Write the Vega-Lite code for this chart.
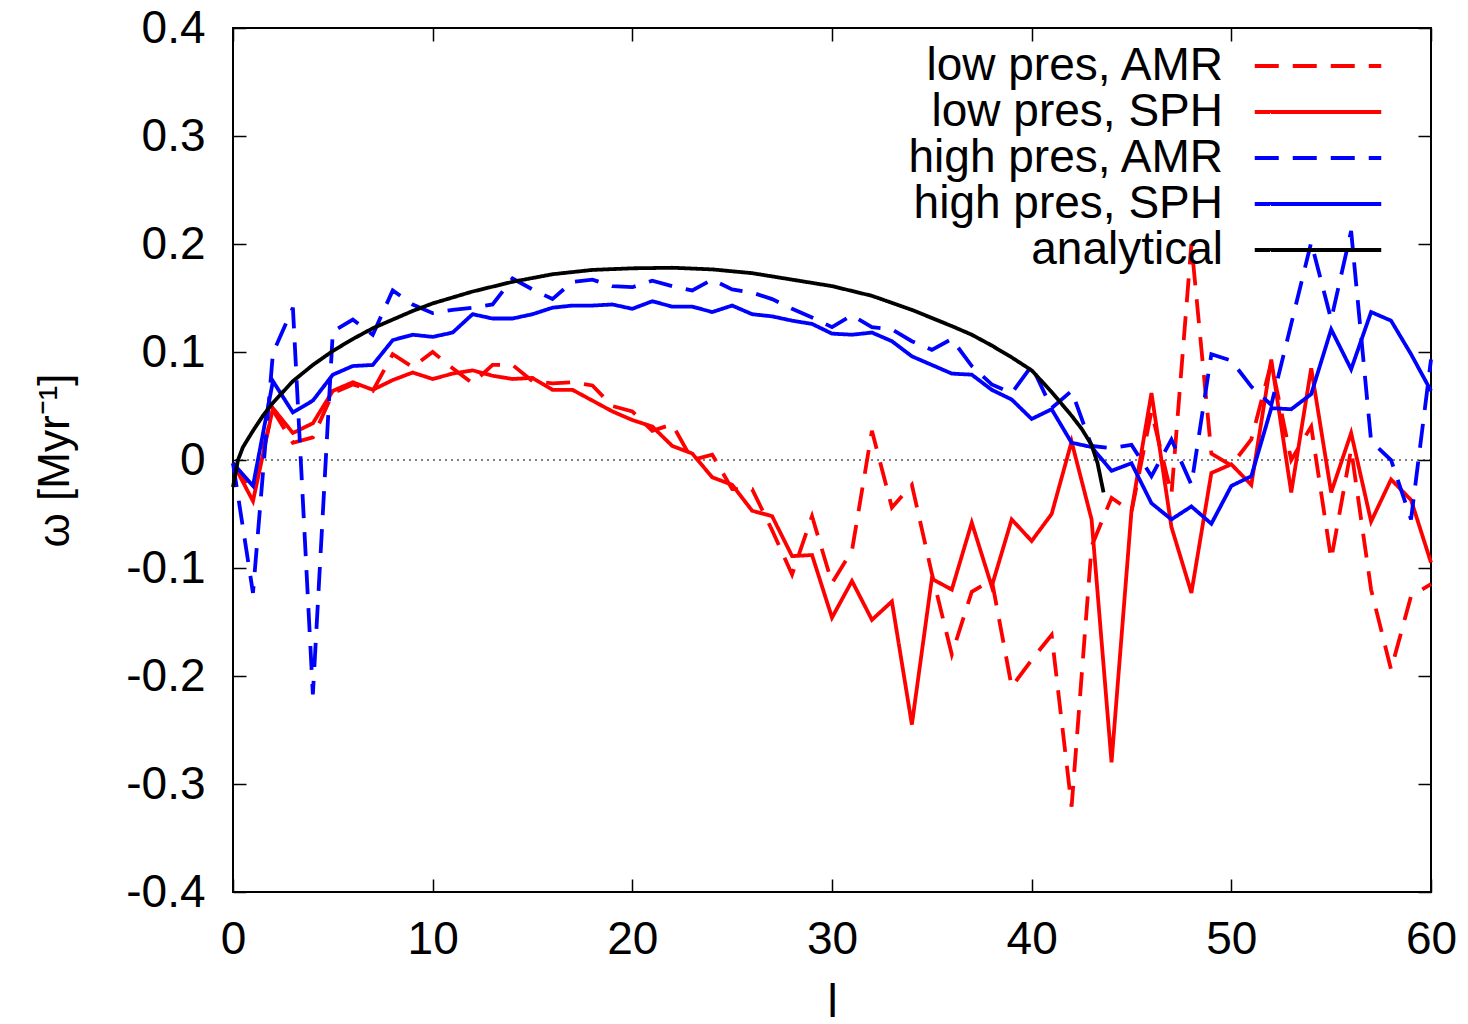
{
  "$schema": "https://vega.github.io/schema/vega-lite/v6.json",
  "width": 1198,
  "height": 864,
  "autosize": {"type": "none"},
  "padding": {"left": 233, "top": 28, "right": 37, "bottom": 132},
  "background": "white",
  "config": {
    "font": "Liberation Sans",
    "view": {"stroke": "black", "strokeWidth": 2},
    "axis": {"grid": false, "domain": false, "tickColor": "black", "tickWidth": 1.5, "labelColor": "black", "titleColor": "black", "labelFont": "Liberation Sans", "titleFont": "Liberation Sans", "labelFontSize": 46, "titleFontSize": 46, "titleFontWeight": "normal", "labelFlush": false, "labelOverlap": false, "labelBound": false}
  },
  "datasets": {
    "curves": [
      {"l":0,"w":-0.003,"series":"low pres, AMR"},{"l":1,"w":-0.028,"series":"low pres, AMR"},{"l":2,"w":0.046,"series":"low pres, AMR"},{"l":3,"w":0.016,"series":"low pres, AMR"},{"l":4,"w":0.021,"series":"low pres, AMR"},{"l":5,"w":0.062,"series":"low pres, AMR"},{"l":6,"w":0.070,"series":"low pres, AMR"},{"l":7,"w":0.064,"series":"low pres, AMR"},{"l":8,"w":0.098,"series":"low pres, AMR"},{"l":9,"w":0.086,"series":"low pres, AMR"},{"l":10,"w":0.100,"series":"low pres, AMR"},{"l":11,"w":0.085,"series":"low pres, AMR"},{"l":12,"w":0.071,"series":"low pres, AMR"},{"l":13,"w":0.088,"series":"low pres, AMR"},{"l":14,"w":0.088,"series":"low pres, AMR"},{"l":15,"w":0.073,"series":"low pres, AMR"},{"l":16,"w":0.071,"series":"low pres, AMR"},{"l":17,"w":0.072,"series":"low pres, AMR"},{"l":18,"w":0.069,"series":"low pres, AMR"},{"l":19,"w":0.050,"series":"low pres, AMR"},{"l":20,"w":0.045,"series":"low pres, AMR"},{"l":21,"w":0.027,"series":"low pres, AMR"},{"l":22,"w":0.033,"series":"low pres, AMR"},{"l":23,"w":0.000,"series":"low pres, AMR"},{"l":24,"w":0.005,"series":"low pres, AMR"},{"l":25,"w":-0.027,"series":"low pres, AMR"},{"l":26,"w":-0.027,"series":"low pres, AMR"},{"l":27,"w":-0.065,"series":"low pres, AMR"},{"l":28,"w":-0.106,"series":"low pres, AMR"},{"l":29,"w":-0.052,"series":"low pres, AMR"},{"l":30,"w":-0.114,"series":"low pres, AMR"},{"l":31,"w":-0.084,"series":"low pres, AMR"},{"l":32,"w":0.027,"series":"low pres, AMR"},{"l":33,"w":-0.044,"series":"low pres, AMR"},{"l":34,"w":-0.023,"series":"low pres, AMR"},{"l":35,"w":-0.105,"series":"low pres, AMR"},{"l":36,"w":-0.180,"series":"low pres, AMR"},{"l":37,"w":-0.122,"series":"low pres, AMR"},{"l":38,"w":-0.111,"series":"low pres, AMR"},{"l":39,"w":-0.210,"series":"low pres, AMR"},{"l":40,"w":-0.185,"series":"low pres, AMR"},{"l":41,"w":-0.162,"series":"low pres, AMR"},{"l":42,"w":-0.321,"series":"low pres, AMR"},{"l":43,"w":-0.080,"series":"low pres, AMR"},{"l":44,"w":-0.035,"series":"low pres, AMR"},{"l":45,"w":-0.048,"series":"low pres, AMR"},{"l":46,"w":0.045,"series":"low pres, AMR"},{"l":47,"w":-0.032,"series":"low pres, AMR"},{"l":48,"w":0.200,"series":"low pres, AMR"},{"l":49,"w":0.006,"series":"low pres, AMR"},{"l":50,"w":-0.005,"series":"low pres, AMR"},{"l":51,"w":0.019,"series":"low pres, AMR"},{"l":52,"w":0.090,"series":"low pres, AMR"},{"l":53,"w":0.000,"series":"low pres, AMR"},{"l":54,"w":0.031,"series":"low pres, AMR"},{"l":55,"w":-0.092,"series":"low pres, AMR"},{"l":56,"w":0.010,"series":"low pres, AMR"},{"l":57,"w":-0.120,"series":"low pres, AMR"},{"l":58,"w":-0.194,"series":"low pres, AMR"},{"l":59,"w":-0.126,"series":"low pres, AMR"},{"l":60,"w":-0.115,"series":"low pres, AMR"},
      {"l":0,"w":-0.003,"series":"low pres, SPH"},{"l":1,"w":-0.038,"series":"low pres, SPH"},{"l":2,"w":0.048,"series":"low pres, SPH"},{"l":3,"w":0.025,"series":"low pres, SPH"},{"l":4,"w":0.034,"series":"low pres, SPH"},{"l":5,"w":0.064,"series":"low pres, SPH"},{"l":6,"w":0.072,"series":"low pres, SPH"},{"l":7,"w":0.065,"series":"low pres, SPH"},{"l":8,"w":0.074,"series":"low pres, SPH"},{"l":9,"w":0.081,"series":"low pres, SPH"},{"l":10,"w":0.075,"series":"low pres, SPH"},{"l":11,"w":0.080,"series":"low pres, SPH"},{"l":12,"w":0.083,"series":"low pres, SPH"},{"l":13,"w":0.078,"series":"low pres, SPH"},{"l":14,"w":0.075,"series":"low pres, SPH"},{"l":15,"w":0.076,"series":"low pres, SPH"},{"l":16,"w":0.065,"series":"low pres, SPH"},{"l":17,"w":0.065,"series":"low pres, SPH"},{"l":18,"w":0.055,"series":"low pres, SPH"},{"l":19,"w":0.045,"series":"low pres, SPH"},{"l":20,"w":0.037,"series":"low pres, SPH"},{"l":21,"w":0.031,"series":"low pres, SPH"},{"l":22,"w":0.013,"series":"low pres, SPH"},{"l":23,"w":0.006,"series":"low pres, SPH"},{"l":24,"w":-0.016,"series":"low pres, SPH"},{"l":25,"w":-0.023,"series":"low pres, SPH"},{"l":26,"w":-0.047,"series":"low pres, SPH"},{"l":27,"w":-0.052,"series":"low pres, SPH"},{"l":28,"w":-0.089,"series":"low pres, SPH"},{"l":29,"w":-0.088,"series":"low pres, SPH"},{"l":30,"w":-0.146,"series":"low pres, SPH"},{"l":31,"w":-0.112,"series":"low pres, SPH"},{"l":32,"w":-0.148,"series":"low pres, SPH"},{"l":33,"w":-0.131,"series":"low pres, SPH"},{"l":34,"w":-0.245,"series":"low pres, SPH"},{"l":35,"w":-0.110,"series":"low pres, SPH"},{"l":36,"w":-0.120,"series":"low pres, SPH"},{"l":37,"w":-0.058,"series":"low pres, SPH"},{"l":38,"w":-0.117,"series":"low pres, SPH"},{"l":39,"w":-0.055,"series":"low pres, SPH"},{"l":40,"w":-0.075,"series":"low pres, SPH"},{"l":41,"w":-0.050,"series":"low pres, SPH"},{"l":42,"w":0.017,"series":"low pres, SPH"},{"l":43,"w":-0.055,"series":"low pres, SPH"},{"l":44,"w":-0.280,"series":"low pres, SPH"},{"l":45,"w":-0.047,"series":"low pres, SPH"},{"l":46,"w":0.062,"series":"low pres, SPH"},{"l":47,"w":-0.062,"series":"low pres, SPH"},{"l":48,"w":-0.123,"series":"low pres, SPH"},{"l":49,"w":-0.012,"series":"low pres, SPH"},{"l":50,"w":-0.004,"series":"low pres, SPH"},{"l":51,"w":-0.023,"series":"low pres, SPH"},{"l":52,"w":0.093,"series":"low pres, SPH"},{"l":53,"w":-0.030,"series":"low pres, SPH"},{"l":54,"w":0.085,"series":"low pres, SPH"},{"l":55,"w":-0.030,"series":"low pres, SPH"},{"l":56,"w":0.025,"series":"low pres, SPH"},{"l":57,"w":-0.057,"series":"low pres, SPH"},{"l":58,"w":-0.018,"series":"low pres, SPH"},{"l":59,"w":-0.037,"series":"low pres, SPH"},{"l":60,"w":-0.095,"series":"low pres, SPH"},
      {"l":0,"w":-0.003,"series":"high pres, AMR"},{"l":1,"w":-0.123,"series":"high pres, AMR"},{"l":2,"w":0.099,"series":"high pres, AMR"},{"l":3,"w":0.141,"series":"high pres, AMR"},{"l":4,"w":-0.217,"series":"high pres, AMR"},{"l":5,"w":0.119,"series":"high pres, AMR"},{"l":6,"w":0.130,"series":"high pres, AMR"},{"l":7,"w":0.116,"series":"high pres, AMR"},{"l":8,"w":0.157,"series":"high pres, AMR"},{"l":9,"w":0.144,"series":"high pres, AMR"},{"l":10,"w":0.136,"series":"high pres, AMR"},{"l":11,"w":0.139,"series":"high pres, AMR"},{"l":12,"w":0.141,"series":"high pres, AMR"},{"l":13,"w":0.144,"series":"high pres, AMR"},{"l":14,"w":0.168,"series":"high pres, AMR"},{"l":15,"w":0.158,"series":"high pres, AMR"},{"l":16,"w":0.149,"series":"high pres, AMR"},{"l":17,"w":0.165,"series":"high pres, AMR"},{"l":18,"w":0.167,"series":"high pres, AMR"},{"l":19,"w":0.161,"series":"high pres, AMR"},{"l":20,"w":0.160,"series":"high pres, AMR"},{"l":21,"w":0.166,"series":"high pres, AMR"},{"l":22,"w":0.161,"series":"high pres, AMR"},{"l":23,"w":0.157,"series":"high pres, AMR"},{"l":24,"w":0.167,"series":"high pres, AMR"},{"l":25,"w":0.158,"series":"high pres, AMR"},{"l":26,"w":0.155,"series":"high pres, AMR"},{"l":27,"w":0.149,"series":"high pres, AMR"},{"l":28,"w":0.140,"series":"high pres, AMR"},{"l":29,"w":0.132,"series":"high pres, AMR"},{"l":30,"w":0.123,"series":"high pres, AMR"},{"l":31,"w":0.134,"series":"high pres, AMR"},{"l":32,"w":0.123,"series":"high pres, AMR"},{"l":33,"w":0.121,"series":"high pres, AMR"},{"l":34,"w":0.110,"series":"high pres, AMR"},{"l":35,"w":0.102,"series":"high pres, AMR"},{"l":36,"w":0.112,"series":"high pres, AMR"},{"l":37,"w":0.087,"series":"high pres, AMR"},{"l":38,"w":0.070,"series":"high pres, AMR"},{"l":39,"w":0.062,"series":"high pres, AMR"},{"l":40,"w":0.087,"series":"high pres, AMR"},{"l":41,"w":0.048,"series":"high pres, AMR"},{"l":42,"w":0.064,"series":"high pres, AMR"},{"l":43,"w":0.013,"series":"high pres, AMR"},{"l":44,"w":0.011,"series":"high pres, AMR"},{"l":45,"w":0.014,"series":"high pres, AMR"},{"l":46,"w":-0.015,"series":"high pres, AMR"},{"l":47,"w":0.019,"series":"high pres, AMR"},{"l":48,"w":-0.023,"series":"high pres, AMR"},{"l":49,"w":0.098,"series":"high pres, AMR"},{"l":50,"w":0.092,"series":"high pres, AMR"},{"l":51,"w":0.068,"series":"high pres, AMR"},{"l":52,"w":0.051,"series":"high pres, AMR"},{"l":53,"w":0.126,"series":"high pres, AMR"},{"l":54,"w":0.2015,"series":"high pres, AMR"},{"l":55,"w":0.130,"series":"high pres, AMR"},{"l":56,"w":0.212,"series":"high pres, AMR"},{"l":57,"w":0.0175,"series":"high pres, AMR"},{"l":58,"w":0.000,"series":"high pres, AMR"},{"l":59,"w":-0.055,"series":"high pres, AMR"},{"l":60,"w":0.093,"series":"high pres, AMR"},
      {"l":0,"w":-0.003,"series":"high pres, SPH"},{"l":1,"w":-0.024,"series":"high pres, SPH"},{"l":2,"w":0.073,"series":"high pres, SPH"},{"l":3,"w":0.044,"series":"high pres, SPH"},{"l":4,"w":0.055,"series":"high pres, SPH"},{"l":5,"w":0.079,"series":"high pres, SPH"},{"l":6,"w":0.087,"series":"high pres, SPH"},{"l":7,"w":0.088,"series":"high pres, SPH"},{"l":8,"w":0.111,"series":"high pres, SPH"},{"l":9,"w":0.116,"series":"high pres, SPH"},{"l":10,"w":0.114,"series":"high pres, SPH"},{"l":11,"w":0.118,"series":"high pres, SPH"},{"l":12,"w":0.135,"series":"high pres, SPH"},{"l":13,"w":0.131,"series":"high pres, SPH"},{"l":14,"w":0.131,"series":"high pres, SPH"},{"l":15,"w":0.135,"series":"high pres, SPH"},{"l":16,"w":0.141,"series":"high pres, SPH"},{"l":17,"w":0.143,"series":"high pres, SPH"},{"l":18,"w":0.143,"series":"high pres, SPH"},{"l":19,"w":0.144,"series":"high pres, SPH"},{"l":20,"w":0.140,"series":"high pres, SPH"},{"l":21,"w":0.147,"series":"high pres, SPH"},{"l":22,"w":0.142,"series":"high pres, SPH"},{"l":23,"w":0.142,"series":"high pres, SPH"},{"l":24,"w":0.137,"series":"high pres, SPH"},{"l":25,"w":0.143,"series":"high pres, SPH"},{"l":26,"w":0.135,"series":"high pres, SPH"},{"l":27,"w":0.133,"series":"high pres, SPH"},{"l":28,"w":0.129,"series":"high pres, SPH"},{"l":29,"w":0.126,"series":"high pres, SPH"},{"l":30,"w":0.117,"series":"high pres, SPH"},{"l":31,"w":0.116,"series":"high pres, SPH"},{"l":32,"w":0.118,"series":"high pres, SPH"},{"l":33,"w":0.110,"series":"high pres, SPH"},{"l":34,"w":0.096,"series":"high pres, SPH"},{"l":35,"w":0.088,"series":"high pres, SPH"},{"l":36,"w":0.080,"series":"high pres, SPH"},{"l":37,"w":0.079,"series":"high pres, SPH"},{"l":38,"w":0.065,"series":"high pres, SPH"},{"l":39,"w":0.056,"series":"high pres, SPH"},{"l":40,"w":0.038,"series":"high pres, SPH"},{"l":41,"w":0.047,"series":"high pres, SPH"},{"l":42,"w":0.016,"series":"high pres, SPH"},{"l":43,"w":0.012,"series":"high pres, SPH"},{"l":44,"w":-0.010,"series":"high pres, SPH"},{"l":45,"w":-0.003,"series":"high pres, SPH"},{"l":46,"w":-0.040,"series":"high pres, SPH"},{"l":47,"w":-0.055,"series":"high pres, SPH"},{"l":48,"w":-0.043,"series":"high pres, SPH"},{"l":49,"w":-0.059,"series":"high pres, SPH"},{"l":50,"w":-0.024,"series":"high pres, SPH"},{"l":51,"w":-0.015,"series":"high pres, SPH"},{"l":52,"w":0.048,"series":"high pres, SPH"},{"l":53,"w":0.047,"series":"high pres, SPH"},{"l":54,"w":0.061,"series":"high pres, SPH"},{"l":55,"w":0.121,"series":"high pres, SPH"},{"l":56,"w":0.084,"series":"high pres, SPH"},{"l":57,"w":0.137,"series":"high pres, SPH"},{"l":58,"w":0.129,"series":"high pres, SPH"},{"l":59,"w":0.098,"series":"high pres, SPH"},{"l":60,"w":0.064,"series":"high pres, SPH"},
      {"l":0,"w":-0.025,"series":"analytical"},{"l":0.25,"w":0.0,"series":"analytical"},{"l":0.5,"w":0.012,"series":"analytical"},{"l":1,"w":0.027,"series":"analytical"},{"l":1.5,"w":0.041,"series":"analytical"},{"l":2,"w":0.053,"series":"analytical"},{"l":3,"w":0.073,"series":"analytical"},{"l":4,"w":0.088,"series":"analytical"},{"l":5,"w":0.101,"series":"analytical"},{"l":6,"w":0.112,"series":"analytical"},{"l":7,"w":0.122,"series":"analytical"},{"l":8,"w":0.130,"series":"analytical"},{"l":9,"w":0.138,"series":"analytical"},{"l":10,"w":0.145,"series":"analytical"},{"l":12,"w":0.156,"series":"analytical"},{"l":14,"w":0.165,"series":"analytical"},{"l":16,"w":0.172,"series":"analytical"},{"l":18,"w":0.176,"series":"analytical"},{"l":20,"w":0.1775,"series":"analytical"},{"l":22,"w":0.178,"series":"analytical"},{"l":24,"w":0.1765,"series":"analytical"},{"l":26,"w":0.173,"series":"analytical"},{"l":28,"w":0.167,"series":"analytical"},{"l":30,"w":0.161,"series":"analytical"},{"l":32,"w":0.152,"series":"analytical"},{"l":34,"w":0.139,"series":"analytical"},{"l":36,"w":0.124,"series":"analytical"},{"l":37,"w":0.116,"series":"analytical"},{"l":38,"w":0.106,"series":"analytical"},{"l":39,"w":0.095,"series":"analytical"},{"l":40,"w":0.083,"series":"analytical"},{"l":41,"w":0.063,"series":"analytical"},{"l":42,"w":0.041,"series":"analytical"},{"l":42.5,"w":0.029,"series":"analytical"},{"l":43,"w":0.014,"series":"analytical"},{"l":43.3,"w":-0.003,"series":"analytical"},{"l":43.6,"w":-0.030,"series":"analytical"}
    ]
  },
  "layer": [
    {
      "data": {"values": [{"zero": 0}]},
      "mark": {"type": "rule", "color": "black", "strokeWidth": 1, "strokeDash": [2, 4]},
      "encoding": {
        "y": {"field": "zero", "type": "quantitative", "scale": {"domain": [-0.4, 0.4], "nice": false, "zero": false}, "axis": null}
      }
    },
    {
      "data": {"name": "curves"},
      "mark": {"type": "line", "strokeJoin": "miter", "strokeCap": "butt"},
      "encoding": {
        "x": {"field": "l", "type": "quantitative", "scale": {"domain": [0, 60], "nice": false, "zero": false},
              "axis": {"orient": "bottom", "title": "l", "values": [0, 10, 20, 30, 40, 50, 60], "tickSize": -13, "labelPadding": 38, "titleY": 124, "titleBaseline": "alphabetic", "titleFontSize": 46}},
        "y": {"field": "w", "type": "quantitative", "scale": {"domain": [-0.4, 0.4], "nice": false, "zero": false},
              "axis": {"orient": "left", "title": "ω [Myr⁻¹]", "values": [-0.4, -0.3, -0.2, -0.1, 0, 0.1, 0.2, 0.3, 0.4], "tickSize": -13, "labelPadding": 41, "labelExpr": "replace(format(datum.value, '.1~f'), '−', '-')", "titleAngle": 270, "titleX": -178, "titleY": 432, "titleAlign": "center", "titleBaseline": "middle", "titleFontSize": 44}},
        "color": {"field": "series", "type": "nominal",
                  "scale": {"domain": ["low pres, AMR", "low pres, SPH", "high pres, AMR", "high pres, SPH", "analytical"], "range": ["#ff0000", "#ff0000", "#0000ff", "#0000ff", "#000000"]},
                  "legend": {"title": null, "orient": "none", "legendX": 1062, "legendY": 15, "symbolType": "M-20,0H20", "symbolSize": 40, "symbolStrokeWidth": 3.8, "labelFontSize": 46, "labelFont": "Liberation Sans", "labelColor": "black", "labelAlign": "right", "labelOffset": -118, "labelLimit": 0, "rowPadding": 0, "padding": 0}},
        "strokeDash": {"field": "series", "type": "nominal",
                       "scale": {"domain": ["low pres, AMR", "low pres, SPH", "high pres, AMR", "high pres, SPH", "analytical"], "range": [[24, 14], [1, 0], [24, 14], [1, 0], [1, 0]]},
                       "legend": {"title": null, "orient": "none", "legendX": 1062, "legendY": 15, "symbolType": "M-20,0H20", "symbolSize": 40, "symbolStrokeWidth": 3.8, "labelFontSize": 46, "labelFont": "Liberation Sans", "labelColor": "black", "labelAlign": "right", "labelOffset": -118, "labelLimit": 0, "rowPadding": 0, "padding": 0}},
        "strokeWidth": {"field": "series", "type": "nominal",
                        "scale": {"domain": ["low pres, AMR", "low pres, SPH", "high pres, AMR", "high pres, SPH", "analytical"], "range": [3.8, 3.8, 3.8, 3.8, 4.3]}, "legend": null},
        "order": {"field": "l", "type": "quantitative"}
      }
    },
    {
      "data": {"name": "curves"},
      "mark": {"type": "point", "opacity": 0},
      "encoding": {
        "x": {"field": "l", "type": "quantitative", "scale": {"domain": [0, 60], "nice": false, "zero": false},
              "axis": {"orient": "top", "title": null, "labels": false, "values": [0, 10, 20, 30, 40, 50, 60], "tickSize": -13}},
        "y": {"field": "w", "type": "quantitative", "scale": {"domain": [-0.4, 0.4], "nice": false, "zero": false},
              "axis": {"orient": "right", "title": null, "labels": false, "values": [-0.4, -0.3, -0.2, -0.1, 0, 0.1, 0.2, 0.3, 0.4], "tickSize": -13}}
      }
    }
  ],
  "resolve": {"axis": {"x": "independent", "y": "independent"}}
}
